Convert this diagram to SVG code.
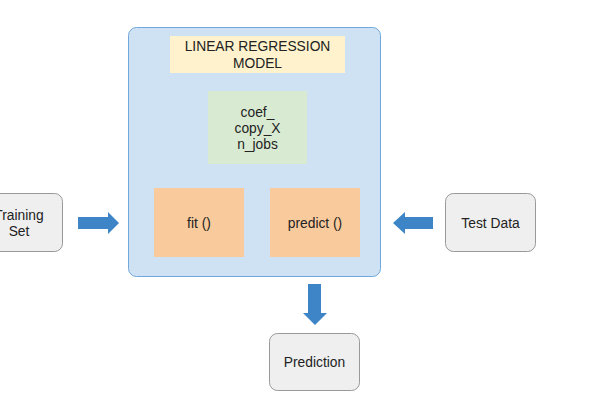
<svg xmlns="http://www.w3.org/2000/svg" width="600" height="400" viewBox="0 0 600 400">
<style>
text{font-family:"Liberation Sans",Arial,sans-serif;font-size:13.8px;fill:#222;text-anchor:middle;dominant-baseline:central}
.io{fill:#efefef;stroke:#999;stroke-width:1}
.arrow{fill:#3d85c6}
</style>
<rect width="600" height="400" fill="#fff"/>
<g id="model">
<rect x="128.5" y="27.5" width="252" height="249" rx="8" fill="#cfe2f3" stroke="#6fa8dc" stroke-width="1"/>
</g>
<g id="title">
<rect x="170" y="36" width="175" height="37" fill="#fff2cc"/>
<text x="257.5" y="46">LINEAR REGRESSION</text>
<text x="257.5" y="63">MODEL</text>
</g>
<g id="attrs">
<rect x="208" y="91" width="99" height="73" fill="#d9ead3"/>
<text x="257.5" y="112">coef_</text>
<text x="257.5" y="128">copy_X</text>
<text x="257.5" y="144">n_jobs</text>
</g>
<g id="fit">
<rect x="154" y="188" width="90" height="69" fill="#f9cb9c"/>
<text x="199" y="223">fit ()</text>
</g>
<g id="predict">
<rect x="270" y="188" width="90" height="69" fill="#f9cb9c"/>
<text x="315" y="223">predict ()</text>
</g>
<g id="training">
<rect class="io" x="-25.5" y="193.5" width="88" height="58" rx="8"/>
<text x="19" y="215">Training</text>
<text x="19" y="231">Set</text>
</g>
<g id="test">
<rect class="io" x="445.5" y="193.5" width="90" height="58" rx="8"/>
<text x="490.5" y="223">Test Data</text>
</g>
<g id="prediction">
<rect class="io" x="269.5" y="333.5" width="90" height="57" rx="8"/>
<text x="314.5" y="362">Prediction</text>
</g>
<g id="connectors">
<polygon class="arrow" points="78,217 108,217 108,212 119,223 108,234 108,229 78,229"/>
<polygon class="arrow" points="433,217 405,217 405,212 393,223 405,234 405,229 433,229"/>
<polygon class="arrow" points="308,284 321,284 321,313 327,313 315,325 303,313 308,313"/>
</g>
</svg>
